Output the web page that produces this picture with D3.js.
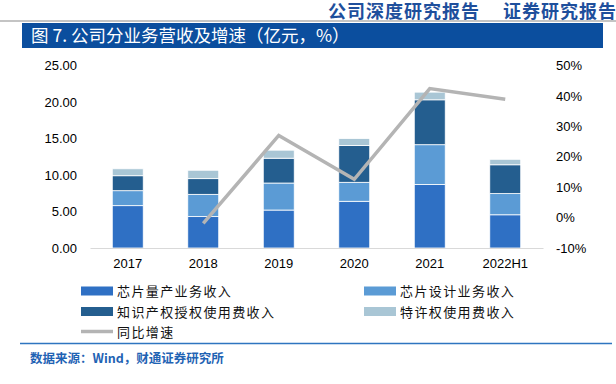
<!DOCTYPE html>
<html>
<head>
<meta charset="utf-8">
<script src="https://cdn.jsdelivr.net/npm/d3@7"></script>
<style>
  body { margin: 0; background: #fff; }
  svg { display: block; }
  .num { font-family: "Liberation Sans", Arial, sans-serif; font-size: 13px; fill: #000; }
  .cjk { font-family: "Noto Sans CJK SC", sans-serif; }
</style>
</head>
<body>
<div id="chart"></div>
<script>
// datos del gráfico
const years = ["2017", "2018", "2019", "2020", "2021", "2022H1"];
const seriesNames = ["芯片量产业务收入", "芯片设计业务收入", "知识产权授权使用费收入", "特许权使用费收入"];
const massProd = [5.8, 4.3, 5.2, 6.4, 8.7, 4.55];
const designRev = [2.05, 3.05, 3.7, 2.6, 5.45, 2.9];
const ipLicense = [2.05, 2.15, 3.4, 5.05, 6.15, 3.95];
const royalty = [0.95, 1.15, 1.1, 0.95, 1.05, 0.75];
const growth = [null, -1.9, 27.0, 12.6, 42.4, 38.9];
const leftTicks = [0, 5, 10, 15, 20, 25];
const rightTicks = [-10, 0, 10, 20, 30, 40, 50];
const lineName = "同比增速";

const colors = ["#2F70C4", "#5B9BD5", "#245E8F", "#A9C6D5"];
const lineColor = "#B4B4B4";

const width = 616, height = 384;
const plotL = 90, plotR = 543, plotT = 65.5, plotB = 248;

const svg = d3.select("#chart").append("svg")
    .attr("width", width)
    .attr("height", height);

/* cabecera */
svg.append("line")
    .attr("x1", 0).attr("x2", width)
    .attr("y1", 21).attr("y2", 21)
    .attr("stroke", "#c4c4c4").attr("stroke-width", 2);

svg.append("text")
    .attr("class", "cjk")
    .attr("x", 328).attr("y", 17.5)
    .attr("fill", "#1E4F9C")
    .style("font-size", "18px").style("font-weight", "bold")
    .style("letter-spacing", "1px")
    .text("公司深度研究报告");
svg.append("text")
    .attr("class", "cjk")
    .attr("x", 503).attr("y", 17.5)
    .attr("fill", "#1E4F9C")
    .style("font-size", "18px").style("font-weight", "bold")
    .style("letter-spacing", "1px")
    .text("证券研究报告");

// barra del título
svg.append("rect")
    .attr("x", 22).attr("y", 23)
    .attr("width", 581).attr("height", 25)
    .attr("fill", "#0B4E9E");
svg.append("text")
    .attr("class", "cjk")
    .attr("x", 31).attr("y", 42)
    .attr("fill", "#fff")
    .style("font-size", "17.5px")
    .text("图 7. 公司分业务营收及增速（亿元，%）");

/* escalas */
const x = d3.scaleBand()
    .domain(years)
    .range([plotL, plotR])
    .paddingInner(0.59)
    .paddingOuter(0.295);

const yL = d3.scaleLinear().domain([0, 25]).range([plotB, plotT]);
const yR = d3.scaleLinear().domain([-10, 50]).range([plotB, plotT]);

/* barras apiladas */
const table = years.map((yr, i) => ({
    year: yr,
    s0: massProd[i], s1: designRev[i], s2: ipLicense[i], s3: royalty[i]
}));
const stack = d3.stack().keys(["s0", "s1", "s2", "s3"])(table);

svg.append("g").selectAll("g")
    .data(stack)
    .join("g")
    .attr("fill", (d, i) => colors[i])
    .selectAll("rect")
    .data(d => d)
    .join("rect")
    .attr("x", d => x(d.data.year))
    .attr("y", d => yL(d[1]))
    .attr("width", x.bandwidth())
    .attr("height", d => yL(d[0]) - yL(d[1]))
    .attr("stroke", "#fff")
    .attr("stroke-width", 0.8);

/* ejes */
const xAxis = svg.append("g")
    .attr("transform", `translate(0,${plotB})`)
    .call(d3.axisBottom(x).tickSize(0).tickPadding(11));
xAxis.select(".domain").attr("stroke", "#d9d9d9").attr("stroke-width", 1.2);
xAxis.selectAll("text").attr("class", "num").attr("fill", "#000");

const yAxisL = svg.append("g")
    .attr("transform", `translate(${plotL},0)`)
    .call(d3.axisLeft(yL).tickValues(leftTicks).tickFormat(d3.format(".2f")).tickSize(0).tickPadding(13));
yAxisL.select(".domain").remove();
yAxisL.selectAll("text").attr("class", "num").attr("fill", "#000");

const yAxisR = svg.append("g")
    .attr("transform", `translate(${plotR},0)`)
    .call(d3.axisRight(yR).tickValues(rightTicks).tickFormat(d => d + "%").tickSize(0).tickPadding(13));
yAxisR.select(".domain").remove();
yAxisR.selectAll("text").attr("class", "num").attr("fill", "#000");

/* línea de crecimiento */
const line = d3.line()
    .defined(d => d.v !== null)
    .x(d => x(d.year) + x.bandwidth() / 2)
    .y(d => yR(d.v));

svg.append("path")
    .datum(years.map((yr, i) => ({ year: yr, v: growth[i] })))
    .attr("fill", "none")
    .attr("stroke", lineColor)
    .attr("stroke-width", 3.5)
    .attr("d", line);

/* leyenda */
const legendItems = [
    { name: seriesNames[0], color: colors[0], type: "rect", col: 0, row: 0 },
    { name: seriesNames[1], color: colors[1], type: "rect", col: 1, row: 0 },
    { name: seriesNames[2], color: colors[2], type: "rect", col: 0, row: 1 },
    { name: seriesNames[3], color: colors[3], type: "rect", col: 1, row: 1 },
    { name: lineName, color: lineColor, type: "line", col: 0, row: 2 }
];
const colX = [81, 364];
const rowY = [291, 311.5, 331.5];

const lg = svg.append("g").selectAll("g")
    .data(legendItems)
    .join("g")
    .attr("transform", d => `translate(${colX[d.col]},${rowY[d.row]})`);

lg.filter(d => d.type === "rect").append("rect")
    .attr("x", 0).attr("y", -4.5)
    .attr("width", 32).attr("height", 9)
    .attr("fill", d => d.color);
lg.filter(d => d.type === "line").append("line")
    .attr("x1", 0).attr("x2", 32)
    .attr("y1", 0).attr("y2", 0)
    .attr("stroke", d => d.color).attr("stroke-width", 3.5);
lg.append("text")
    .attr("class", "cjk")
    .attr("x", 36).attr("y", 5)
    .attr("fill", "#111")
    .style("font-size", "13px")
    .style("letter-spacing", "1.4px")
    .text(d => d.name);

/* pie */
svg.append("line")
    .attr("x1", 20).attr("x2", 612)
    .attr("y1", 343.5).attr("y2", 343.5)
    .attr("stroke", "#2E75C0").attr("stroke-width", 1.5);
svg.append("text")
    .attr("class", "cjk")
    .attr("x", 30).attr("y", 363)
    .attr("fill", "#1F63B4")
    .style("font-size", "12.5px").style("font-weight", "bold")
    .text("数据来源：Wind，财通证券研究所");
</script>
</body>
</html>
